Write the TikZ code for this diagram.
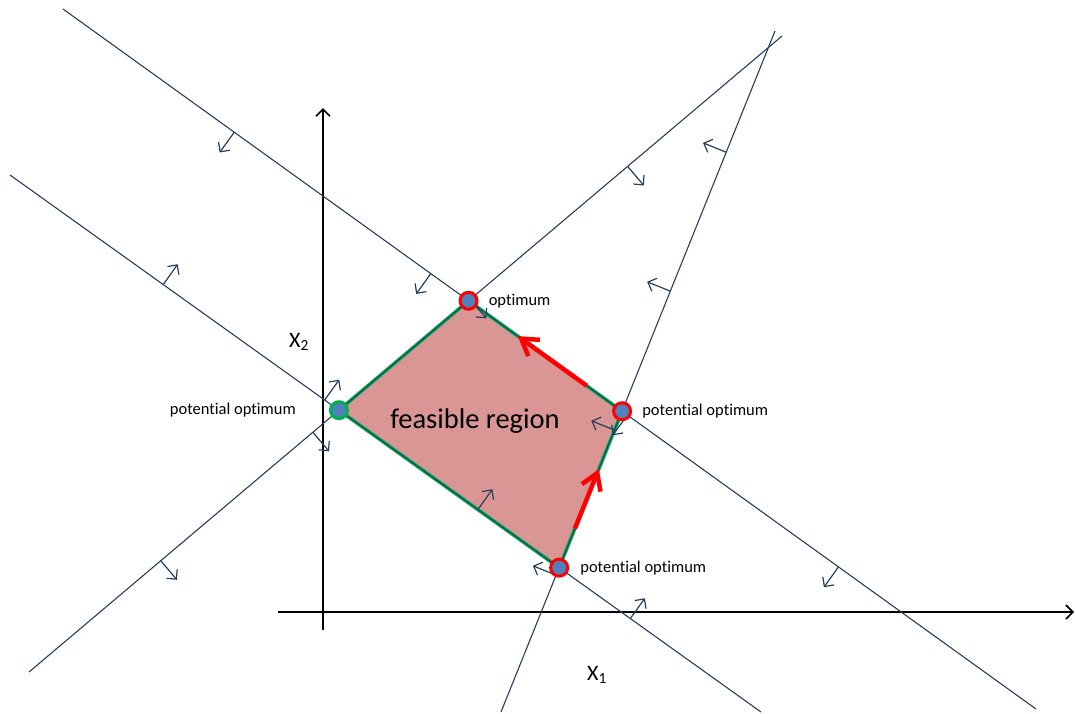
\documentclass[tikz,border=0pt]{standalone}
\usepackage{fontspec}
\setmainfont{Carlito}[Ligatures=NoCommon]
\usetikzlibrary{calc,positioning,arrows.meta}
\definecolor{linecol}{HTML}{243F60}
\definecolor{regioncol}{HTML}{D99694}
\definecolor{edgecol}{HTML}{00B050}
\definecolor{dotcol}{HTML}{4F81BD}
\tikzset{
  constraint/.style={draw=linecol, line width=1.1pt},
  hint/.style={draw=linecol, line width=1.2pt, -{Straight Barb[length=7pt,width=14pt]}},
  axis/.style={line width=1.6pt, -{Straight Barb[length=7pt,width=14pt]}},
  vertex/.style={circle, fill=dotcol, draw=red, line width=3pt, minimum size=17pt, inner sep=0pt},
  lbl/.style={font=\fontsize{16.5}{18}\selectfont, inner sep=1pt},
  move/.style={draw=red, line width=4.5pt, -{Straight Barb[length=16pt,width=20pt]}},
}
\begin{document}
\begin{tikzpicture}[x=1pt,y=-1pt]
\useasboundingbox (0,0) rectangle (1075,713);
% ends of the four constraint lines
\coordinate (a1) at (63,9);
\coordinate (a2) at (1036,709);
\coordinate (b1) at (10,175);
\coordinate (b2) at (761,712);
\coordinate (c1) at (29,672);
\coordinate (c2) at (782,36);
\coordinate (d1) at (501,712);
\coordinate (d2) at (775,31);
% axes
\coordinate (xs) at (278,612);
\coordinate (xe) at (1074,612);
\coordinate (ys) at (323,630);
\coordinate (ye) at (323,108);
% corners of the region
\coordinate (vO) at (intersection of a1--a2 and c1--c2);
\coordinate (vR) at (intersection of a1--a2 and d1--d2);
\coordinate (vB) at (intersection of b1--b2 and d1--d2);
\coordinate (vL) at (intersection of b1--b2 and c1--c2);
\fill[regioncol] (vO) -- (vR) -- (vB) -- (vL) -- cycle;
\draw[edgecol, line width=3.5pt, line join=round] (vO) -- (vR) -- (vB) -- (vL) -- cycle;
\draw[axis] (xs) -- (xe);
\draw[axis] (ys) -- (ye);
\draw[constraint] (a1) -- (a2);
\draw[constraint] (b1) -- (b2);
\draw[constraint] (c1) -- (c2);
\draw[constraint] (d1) -- (d2);
% feasible side of each line
\foreach \t in {0.176,0.378,0.58,0.797}
  \draw[hint] ($(a1)!\t!(a2)$) -- ($(a1)!\t!(a2)!25pt!-90:(a2)$);
\foreach \t in {0.204,0.419,0.623,0.826}
  \draw[hint] ($(b1)!\t!(b2)$) -- ($(b1)!\t!(b2)!25pt!90:(b2)$);
\foreach \t in {0.175,0.377,0.586,0.795}
  \draw[hint] ($(c1)!\t!(c2)$) -- ($(c1)!\t!(c2)!25pt!-90:(c2)$);
\foreach \t in {0.201,0.414,0.618,0.822}
  \draw[hint] ($(d1)!\t!(d2)$) -- ($(d1)!\t!(d2)!25pt!90:(d2)$);
% simplex steps
\draw[move] ($(vR)!0.23!(vO)$) -- ($(vR)!0.68!(vO)$);
\draw[move] ($(vB)!0.25!(vR)$) -- ($(vB)!0.63!(vR)$);
\node[vertex] (opt) at (vO) {};
\node[vertex] (potR) at (vR) {};
\node[vertex] (potB) at (vB) {};
\node[vertex, draw=edgecol] (potL) at (vL) {};
\node[lbl, right=9pt of opt] (optlbl) {optimum};
\node[lbl, left=32pt of potL] (potLlbl) {potential optimum};
\node[lbl, right=9pt of potR] (potRlbl) {potential optimum};
\node[lbl, right=10pt of potB] (potBlbl) {potential optimum};
\node[font=\fontsize{28.5}{30}\selectfont] (feas) at (475,421) {feasible region};
\node[font=\fontsize{22}{24}\selectfont] (xtwo) at (299,342) {X\textsubscript{2}};
\node[font=\fontsize{22}{24}\selectfont] (xone) at (597,675) {X\textsubscript{1}};
\end{tikzpicture}
\end{document}
